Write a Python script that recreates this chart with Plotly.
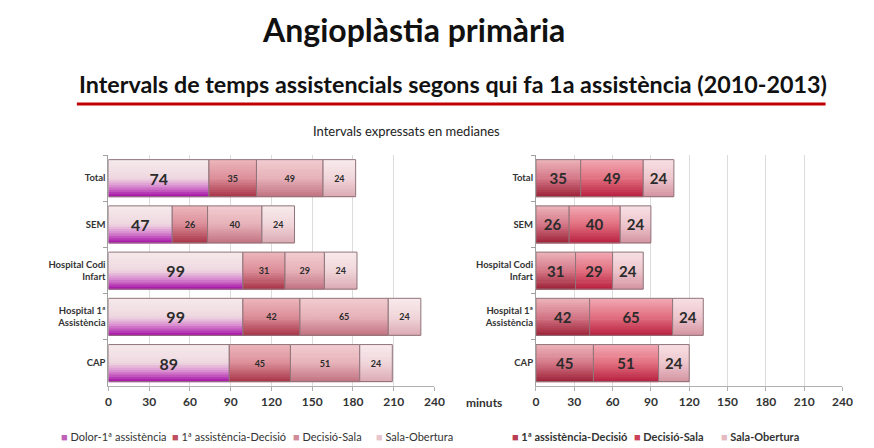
import plotly.graph_objects as go
from plotly.subplots import make_subplots

CATEGORIES = ["Total", "SEM", "Hospital Codi<br>Infart", "Hospital 1ª<br>Assistència", "CAP"]
X_TICKS = [0, 30, 60, 90, 120, 150, 180, 210, 240]

DOLOR_1A = [74, 47, 99, 99, 89]
ASSIST_DECISIO = [35, 26, 31, 42, 45]
DECISIO_SALA = [49, 40, 29, 65, 51]
SALA_OBERTURA = [24, 24, 24, 24, 24]

FONT = "Lato, 'Open Sans', sans-serif"
N_STRIPS = 16

# name, values, gradient stops (top -> bottom), legend colour, label size, legend x (px)
LEFT_SERIES = [
    ("Dolor-1ª assistència", DOLOR_1A,
     [(0, "#f5eaec"), (0.5, "#efd8e0"), (0.72, "#d98fd0"), (1, "#a50fa6")], "#c060b8", 16, 57),
    ("1ª assistència-Decisió", ASSIST_DECISIO,
     [(0, "#ecb6bb"), (0.5, "#dc8f99"), (1, "#a83448")], "#c04e60", 9, 170),
    ("Decisió-Sala", DECISIO_SALA,
     [(0, "#f2ccd0"), (0.5, "#e6b2b9"), (1, "#c27282")], "#d08a98", 9, 292),
    ("Sala-Obertura", SALA_OBERTURA,
     [(0, "#f8eaec"), (0.5, "#f0d6da"), (1, "#dcaab4")], "#e8c4cc", 9, 377),
]
RIGHT_SERIES = [
    ("1ª assistència-Decisió", ASSIST_DECISIO,
     [(0, "#ecb4ba"), (0.5, "#d47888"), (1, "#9e2238")], "#b83c52", 15, 515),
    ("Decisió-Sala", DECISIO_SALA,
     [(0, "#f2aab4"), (0.5, "#e27080"), (1, "#b82040")], "#cc4058", 15, 638),
    ("Sala-Obertura", SALA_OBERTURA,
     [(0, "#f7e0e4"), (0.5, "#edc6cd"), (1, "#d494a2")], "#e6b8c0", 15, 727),
]


def hex_rgb(h):
    h = h.lstrip("#")
    return tuple(int(h[i:i + 2], 16) for i in (0, 2, 4))


def shade_at(stops, t):
    for (t0, c0), (t1, c1) in zip(stops, stops[1:]):
        if t0 <= t <= t1:
            f = (t - t0) / (t1 - t0)
            a, b = hex_rgb(c0), hex_rgb(c1)
            return "rgb(%d,%d,%d)" % tuple(round(a[i] + (b[i] - a[i]) * f) for i in range(3))
    return stops[-1][1]


fig = make_subplots(rows=1, cols=2, horizontal_spacing=0.1)


def add_stack(series, col, bold_legend):
    base = [0] * len(CATEGORIES)
    for name, vals, stops, legend_color, tsize, lx in series:
        h = 0.8 / N_STRIPS
        # gradient made of thin strips, top to bottom
        for k in range(N_STRIPS):
            fig.add_trace(go.Bar(
                x=vals, y=CATEGORIES, base=base, orientation="h",
                width=h * 1.3, offset=-0.4 + k * h,
                marker=dict(color=shade_at(stops, (k + 0.5) / N_STRIPS), line=dict(width=0)),
                showlegend=False, hoverinfo="skip",
            ), row=1, col=col)
        # outline + value label
        fig.add_trace(go.Bar(
            x=vals, y=CATEGORIES, base=base, orientation="h",
            width=0.8, offset=-0.4, name=name,
            marker=dict(color="rgba(0,0,0,0)", line=dict(width=1, color="#8f747a")),
            text=vals, textposition="inside", insidetextanchor="middle",
            textfont=dict(size=tsize, color="#2b2b2b", family=FONT, weight="bold"),
            showlegend=False, hovertemplate="%{y}: %{x}<extra>" + name + "</extra>",
        ), row=1, col=col)
        # legend entry as a compact text label
        label = "<span style='color:%s;font-size:11px'>■</span> %s" % (legend_color, name)
        if bold_legend:
            label = "<b>" + label + "</b>"
        fig.add_annotation(text=label, x=lx / 874, y=1 - 436 / 448,
                           xref="paper", yref="paper", xanchor="left", yanchor="middle",
                           showarrow=False, font=dict(size=11, color="#333", family=FONT))
        base = [b + v for b, v in zip(base, vals)]


add_stack(LEFT_SERIES, 1, False)
add_stack(RIGHT_SERIES, 2, True)

xaxis_style = dict(
    range=[0, 240], tickvals=X_TICKS, showgrid=True, gridcolor="#dcdcdc",
    zeroline=False, showline=True, linecolor="#b0b0b0",
    ticks="outside", ticklen=4, tickcolor="#b0b0b0",
    tickfont=dict(size=12, color="#333", family=FONT, weight="bold"),
)
yaxis_style = dict(
    categoryorder="array", categoryarray=CATEGORIES, autorange="reversed",
    showline=True, linecolor="#a0a0a0", ticks="outside", ticklen=4,
    tickson="boundaries", tickcolor="#a0a0a0", showgrid=False,
    tickfont=dict(size=9.5, color="#333", family=FONT, weight="bold"),
)
fig.update_xaxes(**xaxis_style)
fig.update_yaxes(**yaxis_style)
fig.update_layout(
    xaxis=dict(domain=[0.1224, 0.5011]),
    xaxis2=dict(domain=[0.619, 0.975]),
    yaxis=dict(domain=[0.138, 0.654]),
    yaxis2=dict(domain=[0.138, 0.654]),
)

fig.add_annotation(text="<b>Angioplàstia primària</b>", x=0.477, y=1 - 30 / 448,
                   xref="paper", yref="paper", showarrow=False, yanchor="middle",
                   font=dict(size=32, color="#111", family=FONT))
fig.add_annotation(text="<b>Intervals de temps assistencials segons qui fa 1a assistència (2010-2013)</b>",
                   x=0.523, y=1 - 84 / 448, xref="paper", yref="paper", showarrow=False,
                   yanchor="middle", font=dict(size=23.3, color="#111", family=FONT))
fig.add_shape(type="line", xref="paper", yref="paper",
              x0=75 / 874, x1=835 / 874, y0=1 - 104 / 448, y1=1 - 104 / 448,
              line=dict(color="#c00000", width=3))
fig.add_annotation(text="Intervals expressats en medianes", x=410 / 874, y=1 - 131 / 448,
                   xref="paper", yref="paper", showarrow=False, yanchor="middle",
                   font=dict(size=13, color="#222", family=FONT))
fig.add_annotation(text="<b>minuts</b>", x=488 / 874, y=1 - 402 / 448,
                   xref="paper", yref="paper", showarrow=False, yanchor="middle",
                   font=dict(size=12, color="#333", family=FONT))

fig.update_layout(
    width=874, height=448,
    margin=dict(l=0, r=0, t=0, b=0),
    barmode="overlay",
    showlegend=False,
    plot_bgcolor="white", paper_bgcolor="white",
    font=dict(family=FONT),
)

fig.write_html("out.html", config={"displayModeBar": False},
               post_script="document.body.style.margin='0';")
